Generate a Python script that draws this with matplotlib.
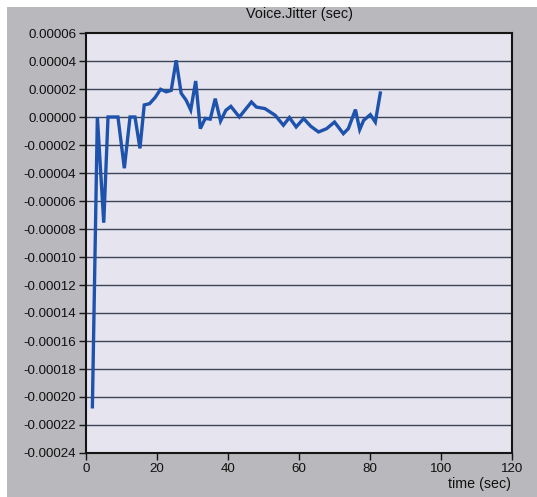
import matplotlib
matplotlib.use("Agg")
import matplotlib.pyplot as plt
from matplotlib.patches import Rectangle
from matplotlib.ticker import FixedLocator, FuncFormatter

# Jitter samples (time in seconds, jitter in seconds)
time_s = [1.8, 3.2, 5.0, 6.2, 9.0, 10.8, 12.4, 13.8, 15.2, 16.4, 17.9, 19.5,
          21.0, 22.6, 24.0, 25.4, 26.8, 28.2, 29.5, 30.9, 32.2, 33.6, 35.0,
          36.4, 37.9, 39.4, 40.8, 43.2, 46.6, 48.0, 50.4, 53.3, 55.6, 57.3,
          59.2, 61.3, 63.3, 65.5, 67.8, 70.0, 72.5, 73.9, 75.9, 77.1, 78.2,
          80.1, 81.5, 82.9]
jitter_s = [-0.000207, 0.0, -0.0000755, 0.0, 0.0, -0.0000366, 0.0, 0.0,
            -0.0000224, 0.0000086, 0.0000095, 0.000014, 0.0000198, 0.000018,
            0.000019, 0.0000405, 0.000017, 0.000012, 0.000005, 0.0000257,
            -0.0000083, -0.000001, -0.0000015, 0.0000131, -0.0000029,
            0.0000048, 0.0000076, 0.0, 0.0000107, 0.0000071, 0.000006,
            0.0000012, -0.0000059, -0.0000004, -0.0000071, -0.0000011,
            -0.0000066, -0.0000107, -0.0000083, -0.0000036, -0.0000119,
            -0.0000083, 0.0000053, -0.000009, -0.0000024, 0.0000017,
            -0.0000036, 0.0000171]

y_ticks = [0.00006, 0.00004, 0.00002, 0.0, -0.00002, -0.00004, -0.00006,
           -0.00008, -0.00010, -0.00012, -0.00014, -0.00016, -0.00018,
           -0.00020, -0.00022, -0.00024]
x_ticks = [0, 20, 40, 60, 80, 100, 120]

title = "Voice.Jitter (sec)"
x_label = "time (sec)"

plt.rcParams["font.family"] = ["Liberation Sans", "DejaVu Sans"]

W, H = 537, 497
fig = plt.figure(figsize=(W / 100, H / 100), dpi=100, facecolor="white")

# grey panel behind the chart
fig.patches.append(Rectangle((7 / W, 0), 1 - 7 / W, 1 - 7 / H,
                             transform=fig.transFigure, facecolor="#b9b9bd",
                             edgecolor="none", zorder=-10))

ax = fig.add_axes([86 / W, 1 - 453 / H, (512 - 86) / W, (453 - 33) / H])
ax.set_zorder(5)
ax.set_facecolor("#e6e4ee")

ax.set_xlim(0, 120)
ax.set_ylim(-0.00024, 0.00006)

ax.yaxis.set_major_locator(FixedLocator(y_ticks))
ax.yaxis.set_major_formatter(FuncFormatter(lambda v, p: f"{v:.5f}"))
ax.xaxis.set_major_locator(FixedLocator(x_ticks))

for v in y_ticks[1:-1]:
    ax.axhline(v, color="#3c4458", linewidth=1.0, zorder=1)

ax.plot(time_s, jitter_s, color="#1d52ad", linewidth=2.4,
        solid_joinstyle="miter", zorder=3)

for s in ax.spines.values():
    s.set_color("#151515")
    s.set_linewidth(1.5)

ax.tick_params(axis="both", direction="out", length=5, width=1,
               color="#151515", labelsize=9.6, labelcolor="#111111")
ax.tick_params(axis="y", pad=2)
ax.tick_params(axis="x", pad=2)

fig.text(299 / W, 1 - 14 / H, title, ha="center", va="center",
         fontsize=10.4, color="#111111", zorder=6)
fig.text(511 / W, 1 - 484 / H, x_label, ha="right", va="center",
         fontsize=10.3, color="#111111", zorder=6)

fig.savefig("out.png", dpi=100, facecolor="white")
